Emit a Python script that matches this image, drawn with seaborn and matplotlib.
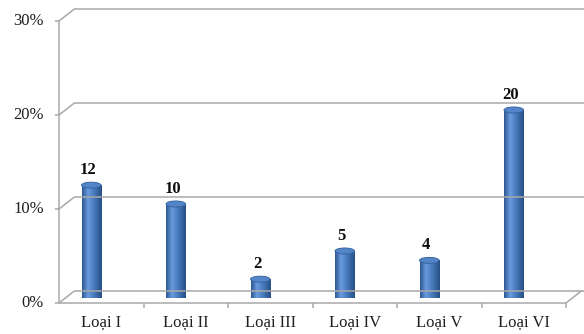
import numpy as np
import matplotlib
matplotlib.use("Agg")
import matplotlib.pyplot as plt
import seaborn as sns
from matplotlib.lines import Line2D
from matplotlib.patches import Ellipse
from matplotlib.colors import LinearSegmentedColormap
from matplotlib.transforms import IdentityTransform

categories = ["Loại I", "Loại II", "Loại III", "Loại IV", "Loại V", "Loại VI"]
values = [12, 10, 2, 5, 4, 20]
y_ticks = [0, 10, 20, 30]
y_tick_labels = ["0%", "10%", "20%", "30%"]

sns.set_theme(style="white")
plt.rcParams["font.family"] = ["Liberation Serif", "DejaVu Serif"]

W, H = 584, 334
fig = plt.figure(figsize=(W / 100, H / 100), dpi=100)
# axes span the plane in which the cylinders stand
ax = fig.add_axes([49 / W, (H - 298) / H, (556 - 49) / W, (298 - 16) / H])

df = {"cat": categories, "val": values}
sns.barplot(x="cat", y="val", data=df, width=0.23, color="#4a7dbf",
            ax=ax, zorder=3)
ax.set_xlim(-0.5, 5.5)
ax.set_ylim(0, 30)
ax.axis("off")

ident = IdentityTransform()
grid_col = "#a8a8a8"
FRONT = (10, -5)
BACK = (26, 7.5)


def P(x, v, off):
    px, py = ax.transData.transform((x, v))
    return px + off[0], py + off[1]


def seg(p0, p1, **kw):
    fig.add_artist(Line2D([p0[0], p1[0]], [p0[1], p1[1]], transform=ident,
                          color=grid_col, lw=1.1, solid_capstyle="butt", **kw))


# back wall gridlines and left wall diagonals
for v in y_ticks:
    b0 = P(-0.5, v, BACK)
    seg(b0, (W + 2, b0[1]))
    seg(P(-0.5, v, FRONT), b0)
    # tick mark on the value axis
    f = P(-0.5, v, FRONT)
    seg((f[0] - 4, f[1]), f)

# value axis
seg(P(-0.5, 0, FRONT), P(-0.5, 30, FRONT))
# floor front edge and right diagonal
seg(P(-0.5, 0, FRONT), P(5.5, 0, FRONT))
seg(P(5.5, 0, FRONT), P(5.5, 0, BACK))
# category ticks
for i in range(len(categories)):
    f = P(i + 0.5, 0, FRONT)
    seg(f, (f[0], f[1] - 5))

# cylinder shading
cyl = LinearSegmentedColormap.from_list(
    "cyl", [(0.0, "#2c5793"), (0.3, "#6a9bdc"), (0.55, "#4d80c4"), (1.0, "#264f85")])
grad = np.linspace(0, 1, 64)[None, :]
cap_h = 6 / 9.4
for p, v in zip(ax.patches, values):
    x0 = p.get_x()
    w = p.get_width()
    cx = x0 + w / 2
    p.set_edgecolor("none")
    bottom = Ellipse((cx, 0), w, cap_h, facecolor="#345f9c", edgecolor="none", zorder=2)
    ax.add_patch(bottom)
    im = ax.imshow(grad, cmap=cyl, extent=[x0, x0 + w, 0, v], aspect="auto",
                   zorder=4, interpolation="bilinear")
    im.set_clip_path(p)
    top = Ellipse((cx, v), w, cap_h, facecolor="#5485c8", edgecolor="#3765a3",
                  lw=0.7, zorder=5)
    ax.add_patch(top)
    ax.annotate(f"{v}", xy=(cx, v), xytext=(-3, 7), textcoords="offset pixels",
                ha="center", va="bottom", fontsize=12, fontweight="bold",
                color="#0d0d0d")

ax.set_xlim(-0.5, 5.5)
ax.set_ylim(0, 30)

# axis labels
for v, lab in zip(y_ticks, y_tick_labels):
    f = P(-0.5, v, FRONT)
    fig.text(44, f[1], lab, transform=ident, ha="right", va="center",
             fontsize=12, color="#1f1f1f")
for i, lab in enumerate(categories):
    f = P(i, 0, FRONT)
    fig.text(f[0], f[1] - 19, lab, transform=ident, ha="center", va="center",
             fontsize=12, color="#1f1f1f")

fig.savefig("out.png", dpi=100)
